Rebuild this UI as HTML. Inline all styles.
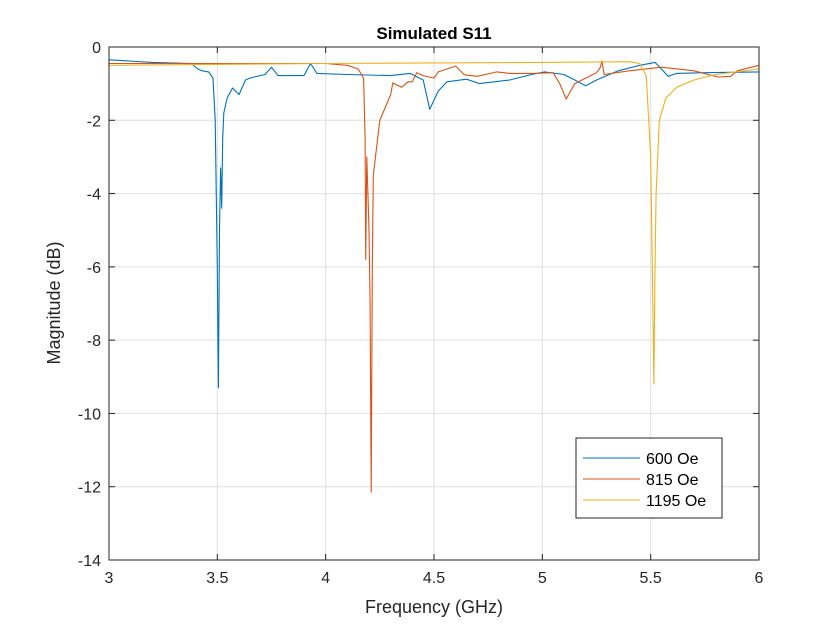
<!DOCTYPE html>
<html><head><meta charset="utf-8"><style>
body{margin:0;background:#fff;}
svg{display:block;font-family:"Liberation Sans",Arial,sans-serif;}
</style></head><body>
<svg id="chart" width="840" height="630"></svg>
<script>
const xTicks=[3,3.5,4,4.5,5,5.5,6];
const xTickLabels=["3","3.5","4","4.5","5","5.5","6"];
const yTicks=[0,-2,-4,-6,-8,-10,-12,-14];
const yTickLabels=["0","-2","-4","-6","-8","-10","-12","-14"];
const seriesNames=["600 Oe","815 Oe","1195 Oe"];
const f600=[3.0,3.2,3.38,3.41,3.43,3.46,3.48,3.49,3.5,3.505,3.51,3.515,3.52,3.525,3.53,3.545,3.57,3.6,3.63,3.65,3.72,3.75,3.78,3.9,3.93,3.96,4.1,4.3,4.39,4.45,4.48,4.52,4.56,4.65,4.71,4.85,4.95,5.01,5.1,5.15,5.2,5.25,5.35,5.45,5.52,5.55,5.58,5.62,5.75,6.0];
const s600=[-0.35,-0.42,-0.45,-0.6,-0.65,-0.68,-0.85,-2,-6,-9.3,-5,-3.3,-4.4,-2.5,-1.8,-1.4,-1.12,-1.3,-0.9,-0.85,-0.75,-0.55,-0.78,-0.78,-0.45,-0.72,-0.75,-0.78,-0.72,-0.9,-1.7,-1.2,-0.95,-0.88,-1.0,-0.9,-0.75,-0.68,-0.75,-0.9,-1.06,-0.9,-0.65,-0.5,-0.42,-0.6,-0.8,-0.72,-0.7,-0.68];
const f815=[3.0,3.5,4.0,4.1,4.15,4.175,4.182,4.185,4.19,4.2,4.205,4.21,4.215,4.22,4.25,4.3,4.31,4.35,4.38,4.4,4.42,4.45,4.5,4.52,4.6,4.64,4.7,4.79,4.85,4.95,5.05,5.08,5.11,5.15,5.2,5.25,5.268,5.275,5.285,5.4,5.55,5.7,5.81,5.87,5.9,6.0];
const s815=[-0.45,-0.45,-0.45,-0.5,-0.6,-0.85,-2.5,-5.8,-3,-5,-7,-12.15,-6,-3.5,-2,-1.3,-0.98,-1.1,-0.95,-0.95,-0.7,-0.78,-0.85,-0.68,-0.52,-0.76,-0.8,-0.68,-0.72,-0.72,-0.7,-1.0,-1.42,-1.0,-0.85,-0.7,-0.55,-0.38,-0.75,-0.65,-0.55,-0.65,-0.82,-0.8,-0.65,-0.5];
const f1195=[3.0,4.0,5.0,5.4,5.45,5.48,5.5,5.51,5.515,5.52,5.525,5.54,5.57,5.62,5.7,5.8,6.0];
const s1195=[-0.5,-0.45,-0.42,-0.4,-0.45,-0.8,-3,-7,-9.2,-6,-4,-2,-1.4,-1.1,-0.9,-0.75,-0.6];
const freqs=[f600,f815,f1195];
const vals=[s600,s815,s1195];
const colors=["#0072BD","#D95319","#EDB120"];

const L=109,R=759,T=47,B=560;
const xs=f=>L+(f-3)/3*(R-L);
const ys=v=>T+(0-v)/14*(B-T);
const NS="http://www.w3.org/2000/svg";
const svg=document.getElementById('chart');
function mk(tag,attrs,parent){const e=document.createElementNS(NS,tag);for(const k in attrs)e.setAttribute(k,attrs[k]);(parent||svg).appendChild(e);return e;}

const bg=mk('rect',{x:L,y:T,width:R-L,height:B-T,fill:'#fff'});


xTicks.forEach((t,i)=>{
  const g=mk('line',{x1:xs(t),x2:xs(t),y1:T,y2:B,stroke:'#dfdfdf','stroke-width':1});
  
  
  mk('line',{x1:xs(t),x2:xs(t),y1:B,y2:B-6,stroke:'#262626'});
  mk('line',{x1:xs(t),x2:xs(t),y1:T,y2:T+6,stroke:'#262626'});
  const tx=mk('text',{x:xs(t),y:B+23,'text-anchor':'middle','font-size':16,fill:'#262626'});
  tx.textContent=xTickLabels[i];
  
  
});
yTicks.forEach((t,i)=>{
  const g=mk('line',{x1:L,x2:R,y1:ys(t),y2:ys(t),stroke:'#dfdfdf','stroke-width':1});
  
  
  mk('line',{x1:L,x2:L+6,y1:ys(t),y2:ys(t),stroke:'#262626'});
  mk('line',{x1:R,x2:R-6,y1:ys(t),y2:ys(t),stroke:'#262626'});
  const tx=mk('text',{x:L-8,y:ys(t)+6,'text-anchor':'end','font-size':16,fill:'#262626'});
  tx.textContent=yTickLabels[i];
  
  
});
vals.forEach((s,k)=>{
  const d=s.map((v,i)=>(i?'L':'M')+xs(freqs[k][i]).toFixed(1)+','+ys(v).toFixed(1)).join('');
  const p=mk('path',{d:d,fill:'none',stroke:colors[k],'stroke-width':1.1,'stroke-linejoin':'round'});
  
  
});
const box=mk('rect',{x:L,y:T,width:R-L,height:B-T,fill:'none',stroke:'#262626','stroke-width':1});



const title=mk('text',{x:434,y:39,'text-anchor':'middle','font-size':17,'font-weight':'bold',fill:'#000'});
title.textContent='Simulated S11';


const xl=mk('text',{x:434,y:613,'text-anchor':'middle','font-size':18,fill:'#262626'});
xl.textContent='Frequency (GHz)';


const yl=mk('text',{x:0,y:0,'text-anchor':'middle','font-size':18,fill:'#262626',transform:'translate(60,303) rotate(-90)'});
yl.textContent='Magnitude (dB)';



const lg=mk('g',{});


mk('rect',{x:576,y:438,width:146,height:80,fill:'#fff',stroke:'#262626','stroke-width':1},lg);
seriesNames.forEach((n,k)=>{
  const yy=458+k*21;
  mk('line',{x1:583,x2:640,y1:yy,y2:yy,stroke:colors[k],'stroke-width':1.1},lg);
  const t=mk('text',{x:646,y:yy+6,'font-size':16,fill:'#000'},lg);
  t.textContent=n;
  
  
});
</script>
</body></html>
